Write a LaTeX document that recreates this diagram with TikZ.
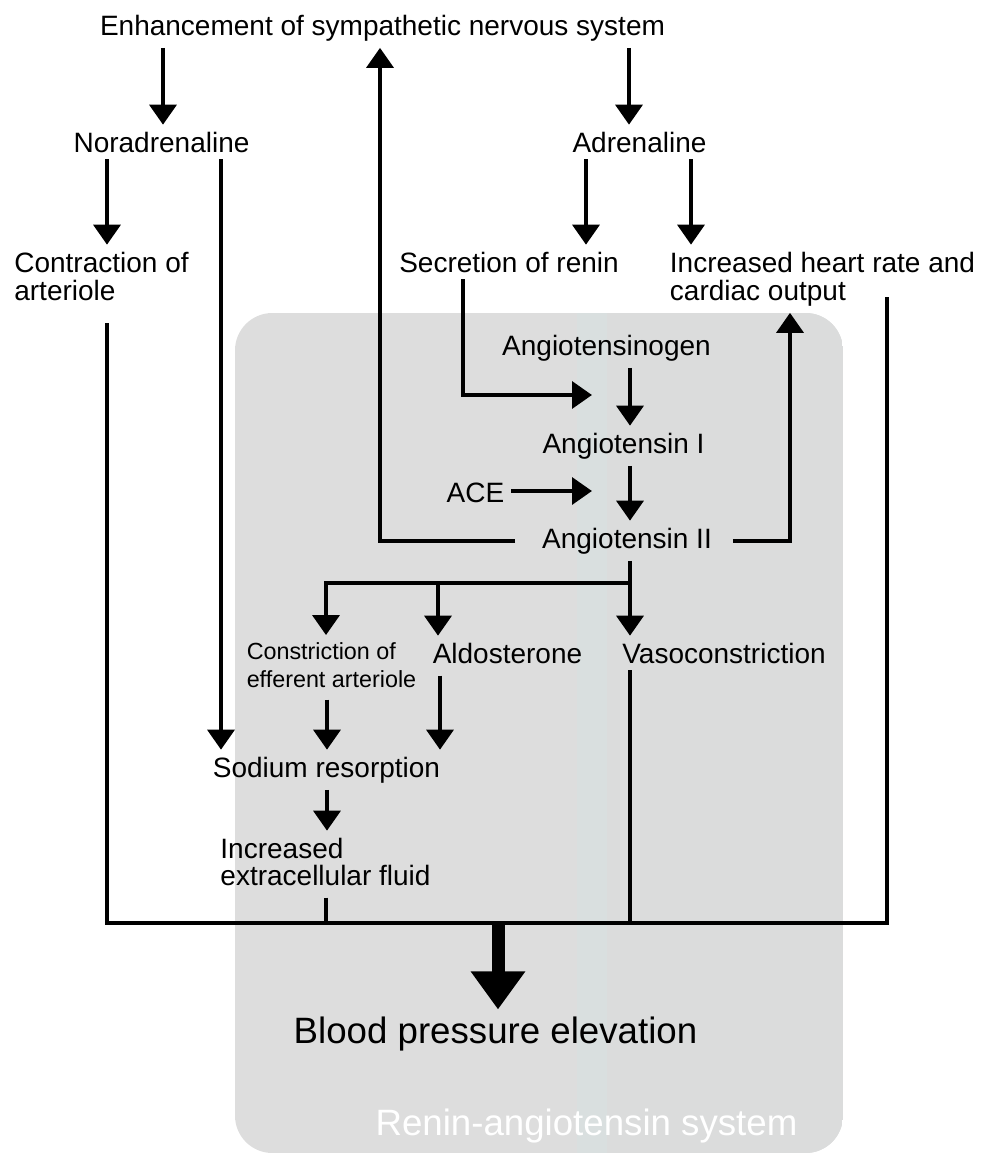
\documentclass[tikz,border=0pt]{standalone}
\usepackage{fontspec}
\setmainfont{Liberation Sans}
\usetikzlibrary{arrows.meta}
\definecolor{rasgrey}{RGB}{221,221,221}
\definecolor{rasband}{RGB}{217,223,223}
\definecolor{rasright}{RGB}{219,220,220}
\tikzset{
  lbl/.style={font=\fontsize{21}{21}\selectfont, inner sep=0pt, outer sep=5.25pt, anchor=base},
  lblsmall/.style={lbl, font=\fontsize{17.5}{21}\selectfont},
  lblbig/.style={lbl, font=\fontsize{27.5}{30}\selectfont},
  ln/.style={line width=3.3pt, line join=miter},
  arr/.style={ln, -{Triangle[length=15pt,width=20pt]}},
  bigarr/.style={line width=9.75pt, -{Triangle[length=28.5pt,width=39pt]}}
}
\begin{document}
\begin{tikzpicture}[x=0.75pt,y=-0.75pt]
\useasboundingbox (0,0) rectangle (982,1153);
% renin-angiotensin system background
\begin{scope}
\clip[rounded corners=28pt] (235,313) rectangle (843,1153);
\fill[rasgrey] (235,313) rectangle (843,1153);
\fill[rasband] (577,313) rectangle (607,1153);
\fill[rasright] (607,313) rectangle (843,1153);
\end{scope}

% labels (multi-line labels are placed by the baseline of their last line)
\node[lbl] (enh) at (382.5,35) {Enhancement of sympathetic nervous system};
\node[lbl] (nor) at (161.5,152) {Noradrenaline};
\node[lbl] (adr) at (639.5,152) {Adrenaline};
\node[lbl, align=left] (con) at (101.5,300) {Contraction of\\arteriole};
\node[lbl] (ren) at (509,272) {Secretion of renin};
\node[lbl, align=left] (hr) at (822.5,300) {Increased heart rate and\\cardiac output};
\node[lbl] (agn) at (606.5,355) {Angiotensinogen};
\node[lbl] (ag1) at (623.5,453) {Angiotensin I};
\node[lbl] (ace) at (475.5,502) {ACE};
\node[lbl] (ag2) at (627,548) {Angiotensin II};
\node[lblsmall, align=left] (cea) at (331.5,687) {Constriction of\\efferent arteriole};
\node[lbl] (ald) at (507.5,663) {Aldosterone};
\node[lbl] (vaso) at (724,663) {Vasoconstriction};
\node[lbl] (sod) at (326.5,777) {Sodium resorption};
\node[lbl, align=left, font=\fontsize{21}{20.25}\selectfont] (ecf) at (325.5,885) {Increased\\extracellular fluid};
\node[lblbig] (bp) at (495.5,1043) {Blood pressure elevation};
\node[lblbig, text=white] (ras) at (586.5,1135) {Renin-angiotensin system};

% free-end coordinates
\coordinate (reninjoin) at (592,395);
\coordinate (acejoin) at (592,491);
\coordinate (branch) at (630,583);
\coordinate (aldbranch) at (438,583);
\coordinate (busL) at (107,923);
\coordinate (busR) at (887,923);
\coordinate (hrline) at (887,297);
\coordinate (ecfbus) at (326,923);
\coordinate (vasobus) at (630,923);
\coordinate (bpbus) at (498,923);

% sympathetic pathways
\draw[arr] (enh.south -| 163,0) -- (nor.north -| 163,0);
\draw[arr] (enh.south -| 629,0) -- (adr.north -| 629,0);
\draw[arr] (nor.south -| 107,0) -- (con.north -| 107,0);
\draw[arr] (nor.south -| 221,0) -- (sod.north -| 221,0);
\draw[arr] (adr.south -| 586,0) -- (ren.north -| 586,0);
\draw[arr] (adr.south -| 691,0) -- (hr.north -| 691,0);

% renin-angiotensin cascade
\draw[arr] (ren.south -| 463,0) |- (reninjoin);
\draw[arr] (agn.south -| 630,0) -- (ag1.north -| 630,0);
\draw[arr] (ace.east |- acejoin) -- (acejoin);
\draw[arr] (ag1.south -| 630,0) -- (ag2.north -| 630,0);
\draw[arr] ([xshift=-15pt]ag2.west) -| (enh.south -| 380,0);
\draw[arr] ([xshift=10.5pt]ag2.east) -| (hr.south -| 790,0);

% Angiotensin II effects
\draw[arr] (ag2.south -| 630,0) -- (vaso.north -| 630,0);
\draw[arr] (branch) -| (cea.north -| 326,0);
\draw[arr] (aldbranch) -- (ald.north -| 438,0);
\draw[arr, shorten <=4pt] (cea.south -| 327,0) -- (sod.north -| 327,0);
\draw[arr, shorten <=4pt] (ald.south -| 440,0) -- (sod.north -| 440,0);
\draw[arr] (sod.south -| 327,0) -- (ecf.north -| 327,0);

% collecting bus
\draw[ln] ([yshift=-12pt]con.south -| 107,0) -- (busL) -- (busR) -- (hrline);
\draw[ln, shorten <=4pt] (ecf.south -| 326,0) -- (ecfbus);
\draw[ln] (vaso.south -| 630,0) -- (vasobus);
\draw[bigarr] (bpbus) -- (bp.north -| 498,0);
\end{tikzpicture}
\end{document}
